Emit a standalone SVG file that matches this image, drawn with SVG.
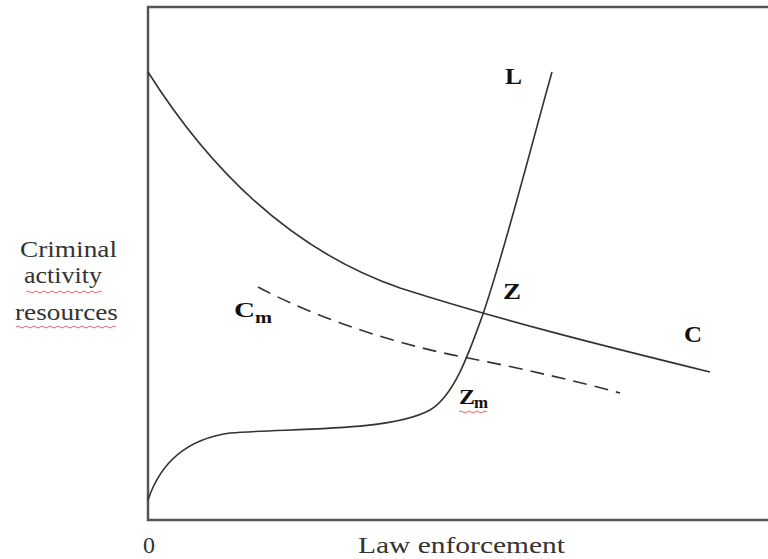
<svg xmlns="http://www.w3.org/2000/svg" width="768" height="559" viewBox="0 0 768 559">
<style>
.ax{fill:none;stroke:#555;stroke-width:2.5}
.cv{fill:none;stroke:#333;stroke-width:1.6}
.dash{fill:none;stroke:#333;stroke-width:1.6;stroke-dasharray:14 8}
.t{font-family:"Liberation Serif","Times New Roman",serif;fill:#333}
.b{font-family:"Liberation Serif","Times New Roman",serif;font-weight:bold;fill:#111}
.sq{fill:none;stroke:#d66;stroke-width:1}
</style>
<rect width="768" height="559" fill="#fff"/>
<g id="axes">
<path class="ax" d="M768,7 L148,7 L148,520 L768,520"/>
</g>
<g id="connectors">
<path id="curve-C" class="cv" d="M148,72 C210,170 290,250 400,288 C500,320 600,345 710,372"/>
<path id="curve-L" class="cv" d="M148,500 C158,470 180,440 230,433 C290,428 390,432 430,410 C455,395 470,350 483,314 C505,250 530,150 552,72"/>
<path id="curve-Cm" class="dash" d="M258,287 C320,320 400,345 463,357 C520,368 580,382 620,393"/>
</g>
<g id="labels">
<text class="t" x="20" y="257" font-size="23" textLength="97" lengthAdjust="spacingAndGlyphs">Criminal</text>
<text class="t" x="24" y="283" font-size="23" textLength="78" lengthAdjust="spacingAndGlyphs">activity</text>
<text class="t" x="15" y="320" font-size="23" textLength="103" lengthAdjust="spacingAndGlyphs">resources</text>
<path class="sq" d="M26,292 q2,-2 4,0 t4,0 t4,0 t4,0 t4,0 t4,0 t4,0 t4,0 t4,0 t4,0 t4,0 t4,0 t4,0 t4,0 t4,0 t4,0 t4,0 t4,0 t4,0"/>
<path class="sq" d="M16,327 q2,-2 4,0 t4,0 t4,0 t4,0 t4,0 t4,0 t4,0 t4,0 t4,0 t4,0 t4,0 t4,0 t4,0 t4,0 t4,0 t4,0 t4,0 t4,0 t4,0 t4,0 t4,0 t4,0 t4,0 t4,0 t4,0"/>
<text class="t" x="143" y="553" font-size="23" textLength="12" lengthAdjust="spacingAndGlyphs">0</text>
<text class="t" x="358" y="553" font-size="23" textLength="207" lengthAdjust="spacingAndGlyphs">Law enforcement</text>
<text class="b" x="505" y="84" font-size="24" textLength="17" lengthAdjust="spacingAndGlyphs">L</text>
<text class="b" x="503" y="299" font-size="24" textLength="18" lengthAdjust="spacingAndGlyphs">Z</text>
<text class="b" x="684" y="342" font-size="24" textLength="18" lengthAdjust="spacingAndGlyphs">C</text>
<text class="b" x="234" y="317" font-size="22" textLength="21" lengthAdjust="spacingAndGlyphs">C</text>
<text class="b" x="255" y="323" font-size="16" textLength="17" lengthAdjust="spacingAndGlyphs">m</text>
<text class="b" x="459" y="404" font-size="22" textLength="16" lengthAdjust="spacingAndGlyphs">Z</text>
<text class="b" x="474" y="408" font-size="16" textLength="14" lengthAdjust="spacingAndGlyphs">m</text>
<path class="sq" d="M459,412 q2,-2 4,0 t4,0 t4,0 t4,0 t4,0 t4,0 t4,0"/>
</g>
</svg>
